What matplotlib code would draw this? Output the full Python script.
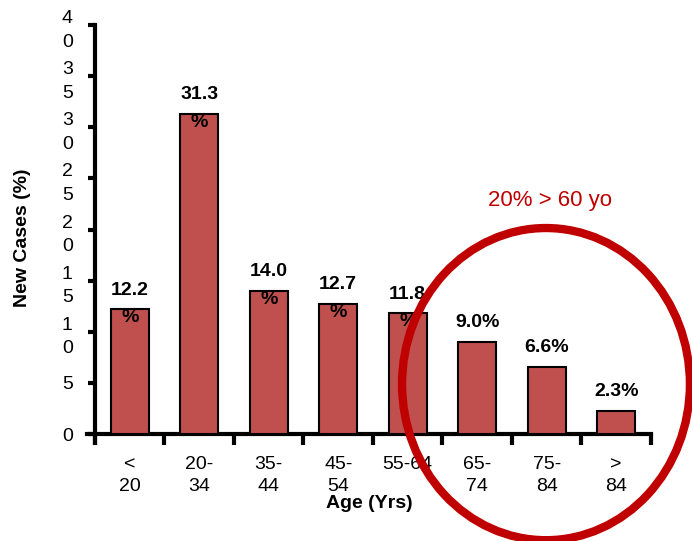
import matplotlib
matplotlib.use("Agg")
import matplotlib.pyplot as plt
from matplotlib.patches import Ellipse

plt.rcParams['font.family'] = ['Liberation Sans', 'DejaVu Sans']

# data
age_labels = ["<\n20", "20-\n34", "35-\n44", "45-\n54", "55-64", "65-\n74", "75-\n84", ">\n84"]
new_cases = [12.2, 31.3, 14.0, 12.7, 11.8, 9.0, 6.6, 2.3]
bar_texts = ["12.2\n%", "31.3\n%", "14.0\n%", "12.7\n%", "11.8\n%", "9.0%", "6.6%", "2.3%"]
ytick_vals = [0, 5, 10, 15, 20, 25, 30, 35, 40]
ytick_labels = ["0", "5", "1\n0", "1\n5", "2\n0", "2\n5", "3\n0", "3\n5", "4\n0"]
note = "20% > 60 yo"

fig = plt.figure(figsize=(6.92, 5.41), dpi=100)
ax = fig.add_axes([0.1257, 0.1811, 0.815, 0.7726])

x = range(len(new_cases))
ax.bar(x, new_cases, width=0.55, color="#C0504D", edgecolor="black", linewidth=1.5, zorder=3)

for i, (v, t) in enumerate(zip(new_cases, bar_texts)):
    ax.annotate(t, (i, v), xytext=(0, 20), textcoords="offset points",
                ha="center", va="top", fontsize=14, fontweight="bold",
                linespacing=1.8, zorder=4)

ax.set_xlim(-0.615, 7.5)
ax.set_ylim(-0.88, 40)

for s in ["top", "right"]:
    ax.spines[s].set_visible(False)
ax.spines["bottom"].set_position(("data", 0))
ax.spines["left"].set_position(("data", -0.5))
ax.spines["bottom"].set_linewidth(3)
ax.spines["left"].set_linewidth(3)

ax.set_xticks(list(x))
ax.set_xticklabels(age_labels, fontsize=14, linespacing=1.4)
ax.tick_params(axis="x", which="major", length=0, pad=16)
ax.set_xticks([i - 0.5 for i in range(len(new_cases) + 1)], minor=True)
ax.tick_params(axis="x", which="minor", length=8, width=3, direction="out")

ax.set_yticks(ytick_vals)
ax.set_yticklabels(ytick_labels, fontsize=14, linespacing=1.5)
ax.tick_params(axis="y", length=5, width=3, direction="out", pad=15)
for lab in ax.get_yticklabels():
    lab.set_horizontalalignment("center")

ax.set_xlabel("Age (Yrs)", fontsize=14, fontweight="bold", va="center")
ax.xaxis.set_label_coords(0.5, -0.145)
ax.set_ylabel("New Cases (%)", fontsize=14, fontweight="bold", va="center")
ax.yaxis.set_label_coords(-0.115, 0.49)

circle = Ellipse((0.789, 0.290), 0.416, 0.577, transform=fig.transFigure,
                 fill=False, edgecolor="#C00000", linewidth=6, zorder=10)
fig.patches.append(circle)
fig.text(0.795, 0.630, note, color="#C00000", fontsize=16, ha="center", va="center")

fig.savefig("out.png", dpi=100)
